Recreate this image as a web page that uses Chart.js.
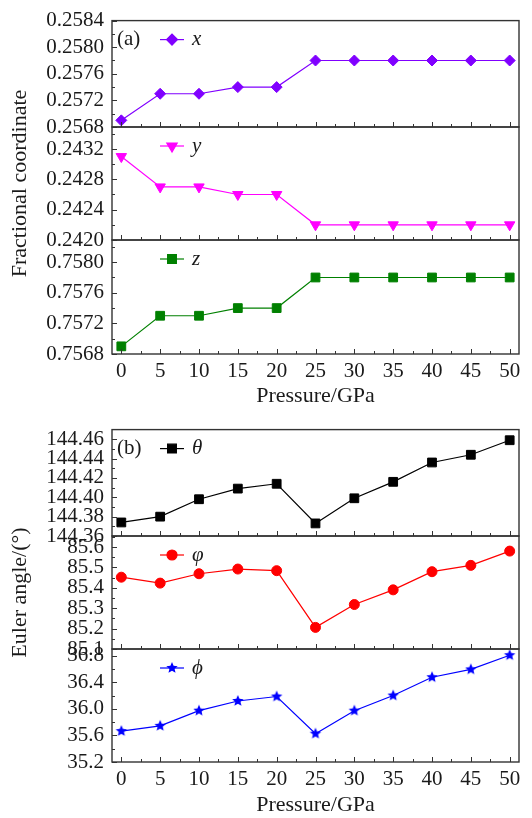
<!DOCTYPE html>
<html>
<head>
<meta charset="utf-8">
<script src="https://cdn.jsdelivr.net/npm/chart.js@4.4.0/dist/chart.umd.min.js"></script>
<style>
html, body { margin: 0; padding: 0; background: #fff; overflow: hidden; }
.grp { position: absolute; left: 0; width: 532px; height: 409px; }
.grp canvas { position: absolute; left: 0; top: 0; }
</style>
</head>
<body>
<div class="grp" style="top:0px">
  <canvas id="cx" width="532" height="409"></canvas>
  <canvas id="cy" width="532" height="409"></canvas>
  <canvas id="cz" width="532" height="409"></canvas>
</div>
<div class="grp" style="top:409px">
  <canvas id="ctheta" width="532" height="409"></canvas>
  <canvas id="cvarphi" width="532" height="409"></canvas>
  <canvas id="cphi" width="532" height="409"></canvas>
</div>
<script>
// Dados
const pressure = [0, 5, 10, 15, 20, 25, 30, 35, 40, 45, 50];
const fracX = [0.2569, 0.2573, 0.2573, 0.2574, 0.2574, 0.2578, 0.2578, 0.2578, 0.2578, 0.2578, 0.2578];
const fracY = [0.2431, 0.2427, 0.2427, 0.2426, 0.2426, 0.2422, 0.2422, 0.2422, 0.2422, 0.2422, 0.2422];
const fracZ = [0.7569, 0.7573, 0.7573, 0.7574, 0.7574, 0.7578, 0.7578, 0.7578, 0.7578, 0.7578, 0.7578];
const eulerTheta = [144.374, 144.380, 144.398, 144.409, 144.414, 144.373, 144.399, 144.416, 144.436, 144.444, 144.459];
const eulerVarphi = [85.452, 85.423, 85.469, 85.492, 85.484, 85.206, 85.318, 85.390, 85.479, 85.510, 85.580];
const eulerPhi = [35.665, 35.744, 35.972, 36.118, 36.185, 35.626, 35.972, 36.200, 36.475, 36.593, 36.806];

// Ticks
const xTicks = [0, 5, 10, 15, 20, 25, 30, 35, 40, 45, 50];
const ticksX = [0.2568, 0.2572, 0.2576, 0.2580, 0.2584];
const ticksY = [0.2420, 0.2424, 0.2428, 0.2432];
const ticksZ = [0.7568, 0.7572, 0.7576, 0.7580];
const ticksTheta = [144.36, 144.38, 144.40, 144.42, 144.44, 144.46];
const ticksVarphi = [85.1, 85.2, 85.3, 85.4, 85.5, 85.6];
const ticksPhi = [35.2, 35.6, 36.0, 36.4, 36.8];

const FONT = '"Liberation Serif", "Times New Roman", serif';
const INK = "#1a1a1a";

// estrela preenchida para o marcador
function starCanvas(color, r) {
	const s = Math.ceil(r * 2 + 2);
	const c = document.createElement("canvas");
	c.width = s;
	c.height = s;
	const g = c.getContext("2d");
	g.beginPath();
	for (let i = 0; i < 10; i++) {
		const rad = i % 2 === 0 ? r : r * 0.45;
		const a = -Math.PI / 2 + (i * Math.PI) / 5;
		g.lineTo(s / 2 + rad * Math.cos(a), s / 2 + rad * Math.sin(a));
	}
	g.closePath();
	g.fillStyle = color;
	g.fill();
	return c;
}

// moldura, ticks internos e legenda
const frame = {
	id: "frame",
	afterDatasetsDraw(chart, args, o) {
		const { ctx, chartArea: a } = chart;
		const x = chart.scales.x;
		const y = chart.scales.y;
		ctx.save();
		ctx.strokeStyle = "#333";
		ctx.lineWidth = 1;
		ctx.beginPath();
		xTicks.forEach((v, i) => {
			let px = Math.round(x.getPixelForValue(v)) + 0.5;
			ctx.moveTo(px, a.bottom);
			ctx.lineTo(px, a.bottom - 5);
			if (i < xTicks.length - 1) {
				px = Math.round(x.getPixelForValue((v + xTicks[i + 1]) / 2)) + 0.5;
				ctx.moveTo(px, a.bottom);
				ctx.lineTo(px, a.bottom - 3);
			}
		});
		const yt = o.yTicks;
		const step = yt[1] - yt[0];
		yt.forEach((v) => {
			let py = Math.round(y.getPixelForValue(v)) + 0.5;
			ctx.moveTo(a.left, py);
			ctx.lineTo(a.left + 5, py);
			const m = v + step / 2;
			if (m < y.max) {
				py = Math.round(y.getPixelForValue(m)) + 0.5;
				ctx.moveTo(a.left, py);
				ctx.lineTo(a.left + 3, py);
			}
		});
		ctx.stroke();
		ctx.lineWidth = 1.4;
		ctx.strokeRect(a.left, a.top, a.right - a.left, a.bottom - a.top);

		// legenda
		const ds = chart.data.datasets[0];
		const ly = a.top + o.legendDy;
		ctx.strokeStyle = ds.borderColor;
		ctx.lineWidth = ds.borderWidth;
		ctx.beginPath();
		ctx.moveTo(160, ly);
		ctx.lineTo(184, ly);
		ctx.stroke();
		ctx.fillStyle = ds.backgroundColor;
		ctx.strokeStyle = ds.borderColor;
		Chart.helpers.drawPoint(ctx, { pointStyle: ds.pointStyle, radius: ds.pointRadius, rotation: ds.pointRotation || 0, borderWidth: 1 }, 172, ly);
		ctx.fillStyle = INK;
		ctx.textBaseline = "middle";
		ctx.font = "italic 21px " + FONT;
		ctx.fillText(o.symbol, 192, ly);
		if (o.tag) {
			ctx.font = "21px " + FONT;
			ctx.fillText(o.tag, 117, ly);
		}
		ctx.restore();
	},
};

function panel(id, p) {
	const showX = !!p.showX;
	return new Chart(document.getElementById(id), {
		type: "line",
		data: {
			datasets: [
				{
					data: pressure.map((v, i) => ({ x: v, y: p.values[i] })),
					borderColor: p.color,
					backgroundColor: p.color,
					borderWidth: 1.2,
					pointStyle: p.pointStyle,
					pointRadius: p.radius,
					pointRotation: p.rotation || 0,
					pointBorderWidth: 1,
					tension: 0,
				},
			],
		},
		options: {
			responsive: false,
			animation: false,
			layout: { padding: { top: p.top, bottom: showX ? 0 : 409 - p.bottom, left: 0, right: 13 } },
			plugins: {
				legend: { display: false },
				tooltip: { enabled: false },
				frame: { yTicks: p.yTicks, symbol: p.symbol, tag: p.tag, legendDy: 19 },
			},
			scales: {
				x: {
					type: "linear",
					min: -1.2,
					max: 51.2,
					display: showX,
					afterBuildTicks: (s) => {
						s.ticks = xTicks.map((v) => ({ value: v }));
					},
					afterFit: (s) => {
						s.height = showX ? 409 - p.bottom : 0;
					},
					grid: { display: false, drawTicks: false },
					border: { display: false },
					ticks: { autoSkip: false, maxRotation: 0, padding: 5, color: INK, font: { family: FONT, size: 21 } },
					title: { display: true, text: "Pressure/GPa", color: INK, padding: { top: 0, bottom: 0 }, font: { family: FONT, size: 22 } },
				},
				y: {
					min: p.yMin,
					max: p.yMax,
					afterBuildTicks: (s) => {
						s.ticks = p.yTicks.map((v) => ({ value: v }));
					},
					afterFit: (s) => {
						s.width = 112;
					},
					grid: { display: false, drawTicks: false },
					border: { display: false },
					ticks: { autoSkip: false, padding: 8, color: INK, font: { family: FONT, size: 21 }, callback: (v) => Number(v).toFixed(p.decimals) },
					title: { display: !!p.yTitle, text: p.yTitle || "", color: INK, padding: { top: 7, bottom: 0 }, font: { family: FONT, size: 22 } },
				},
			},
		},
		plugins: [frame],
	});
}

// (a) coordenadas fracionárias
panel("cx", { values: fracX, color: "#8000ff", pointStyle: "rectRot", radius: 5.5, yMin: 0.2568, yMax: 0.2584, yTicks: ticksX, decimals: 4, top: 13, bottom: 127, symbol: "x", tag: "(a)" });
panel("cy", { values: fracY, color: "#ff00ff", pointStyle: "triangle", rotation: 180, radius: 6, yMin: 0.2420, yMax: 0.24349, yTicks: ticksY, decimals: 4, top: 127, bottom: 240, symbol: "y", yTitle: "Fractional coordinate" });
panel("cz", { values: fracZ, color: "#008000", pointStyle: "rect", radius: 6.2, yMin: 0.7568, yMax: 0.75829, yTicks: ticksZ, decimals: 4, top: 240, bottom: 354, symbol: "z", showX: true });

// (b) ângulos de Euler
panel("ctheta", { values: eulerTheta, color: "#000000", pointStyle: "rect", radius: 6.2, yMin: 144.36, yMax: 144.47, yTicks: ticksTheta, decimals: 2, top: 14, bottom: 127, symbol: "θ", tag: "(b)" });
panel("cvarphi", { values: eulerVarphi, color: "#ff0000", pointStyle: "circle", radius: 5, yMin: 85.1, yMax: 85.654, yTicks: ticksVarphi, decimals: 1, top: 127, bottom: 240, symbol: "φ", yTitle: "Euler angle/(°)" });
panel("cphi", { values: eulerPhi, color: "#0000ff", pointStyle: starCanvas("#0000ff", 6), radius: 6, yMin: 35.2, yMax: 36.9, yTicks: ticksPhi, decimals: 1, top: 240, bottom: 353, symbol: "ϕ", showX: true });
</script>
</body>
</html>
